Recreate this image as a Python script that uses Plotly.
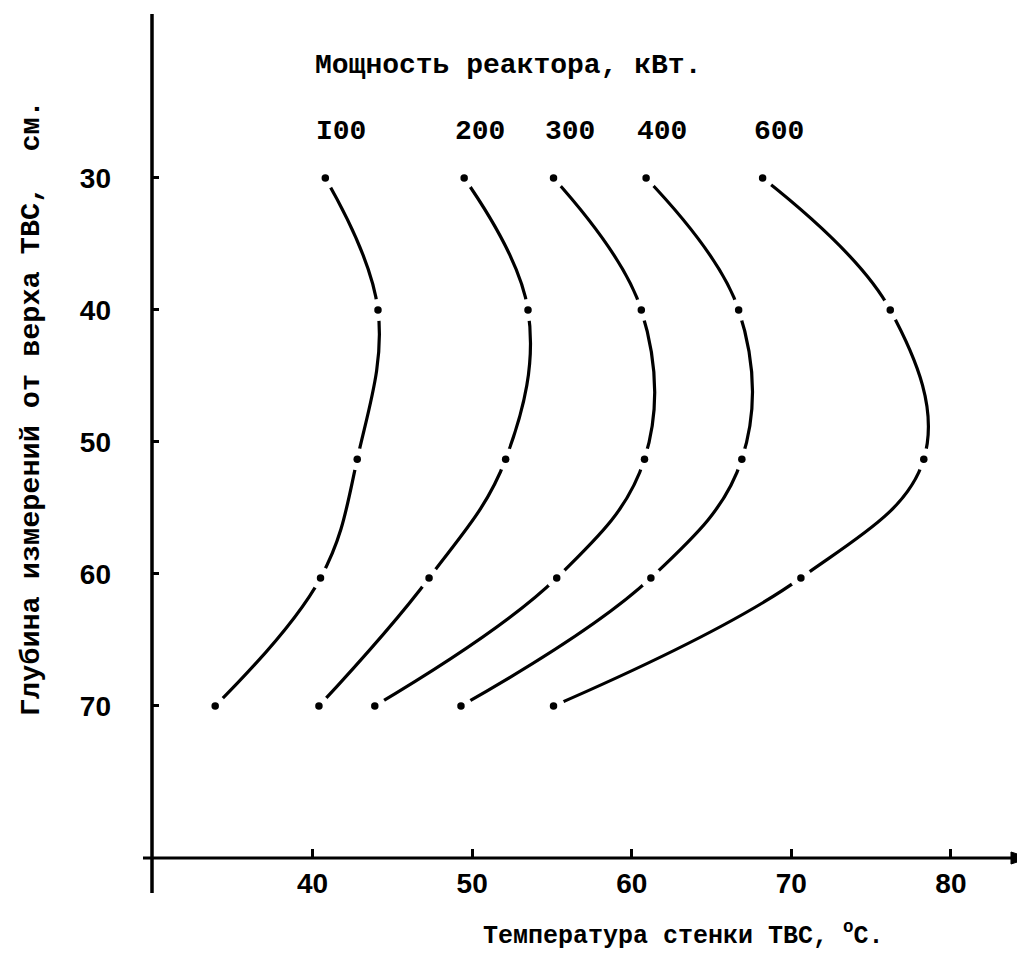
import plotly.graph_objects as go

# ---- data ----
depth_cm = [30, 40, 51.3, 60.3, 70]
power_labels = ["I00", "200", "300", "400", "600"]
temp_100 = [40.8, 44.1, 42.8, 40.5, 33.9]
temp_200 = [49.5, 53.5, 52.1, 47.3, 40.4]
temp_300 = [55.1, 60.6, 60.8, 55.3, 43.9]
temp_400 = [60.9, 66.7, 66.9, 61.2, 49.3]
temp_600 = [68.2, 76.2, 78.3, 70.6, 55.1]
x_ticks = [40, 50, 60, 70, 80]
y_ticks = [30, 40, 50, 60, 70]

series = [temp_100, temp_200, temp_300, temp_400, temp_600]

W, H = 1025, 962
ML, MR, MT, MB = 144, 5, 5, 112
PW, PH = W - ML - MR, H - MT - MB


def px(xpix):
    return (xpix - ML) / PW


def py(ypix):
    return (H - MB - ypix) / PH


mono = "Liberation Mono"
sans = "Liberation Sans"

fig = go.Figure()
for temps in series:
    fig.add_trace(go.Scatter(
        x=temps, y=depth_cm, mode="lines",
        line=dict(color="black", width=3.2, shape="spline", smoothing=1.1),
        hoverinfo="skip", showlegend=False))
for temps in series:
    fig.add_trace(go.Scatter(
        x=temps, y=depth_cm, mode="markers",
        marker=dict(color="white", size=22),
        hoverinfo="skip", showlegend=False))
for temps in series:
    fig.add_trace(go.Scatter(
        x=temps, y=depth_cm, mode="markers",
        marker=dict(color="black", size=7.5),
        showlegend=False))

annotations = []
for lab, temps in zip(power_labels, series):
    annotations.append(dict(
        x=temps[0], y=depth_cm[0], xref="x", yref="y", text=lab,
        showarrow=False, xshift=16, yshift=46,
        xanchor="center", yanchor="middle",
        font=dict(family=mono, size=28, color="black", weight="bold")))

annotations.append(dict(
    x=px(500), y=py(58), xref="paper", yref="paper",
    xanchor="center", yanchor="middle",
    text="Мощность реактора, кВт.", showarrow=False,
    font=dict(family=mono, size=28, color="black", weight="bold")))
annotations.append(dict(
    x=px(675), y=py(926), xref="paper", yref="paper",
    xanchor="center", yanchor="middle",
    text="Температура стенки ТВС, <sup>o</sup>C.", showarrow=False,
    font=dict(family=mono, size=25, color="black", weight="bold")))
annotations.append(dict(
    x=px(24), y=py(400), xref="paper", yref="paper", textangle=-90,
    xanchor="center", yanchor="middle",
    text="Глубина измерений от верха ТВС,  см.", showarrow=False,
    font=dict(family=mono, size=28.5, color="black", weight="bold")))


def path_pts(pts):
    d = "M " + " L ".join(f"{px(a):.5f},{py(b):.5f}" for a, b in pts) + " Z"
    return d


shapes = [
    dict(type="line", xref="paper", yref="paper",
         x0=px(144), x1=px(144), y0=py(885), y1=py(6),
         line=dict(color="black", width=3.5)),
    dict(type="line", xref="paper", yref="paper",
         x0=px(135), x1=px(1008), y0=py(850), y1=py(850),
         line=dict(color="black", width=3)),
    # arrow head at the end of the x axis
    dict(type="path", xref="paper", yref="paper",
         path=path_pts([(1003, 844), (1022, 850), (1003, 856)]),
         fillcolor="black", line=dict(color="black", width=1)),
]

fig.update_layout(
    width=W, height=H,
    margin=dict(l=ML, r=MR, t=MT, b=MB),
    paper_bgcolor="white", plot_bgcolor="white",
    showlegend=False,
    annotations=annotations, shapes=shapes,
    xaxis=dict(
        range=[29.94, 84.83], tickvals=x_ticks, ticks="inside",
        ticklen=9, tickwidth=2.5, tickcolor="black",
        showgrid=False, zeroline=False, showline=False,
        ticklabelstandoff=6,
        tickfont=dict(family=sans, size=28, color="black", weight="bold")),
    yaxis=dict(
        range=[81.52, 17.5], tickvals=y_ticks, ticks="inside",
        ticklen=7, tickwidth=2.5, tickcolor="black",
        showgrid=False, zeroline=False, showline=False,
        ticklabelstandoff=40,
        tickfont=dict(family=sans, size=28, color="black", weight="bold")),
)

fig.write_html("out.html")
